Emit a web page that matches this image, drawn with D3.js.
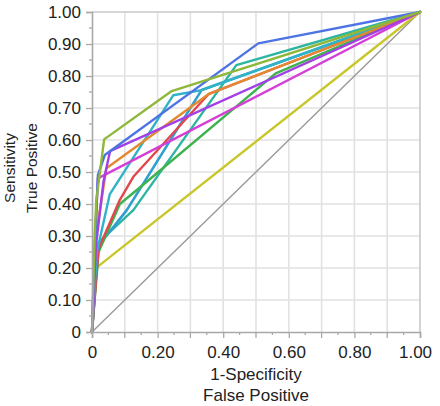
<!DOCTYPE html>
<html>
<head>
<meta charset="utf-8">
<script src="https://cdn.jsdelivr.net/npm/d3@7"></script>
<style>
  html, body { margin: 0; padding: 0; background: #fff; }
  svg { display: block; }
  text { font-family: "Liberation Sans", Arial, Helvetica, sans-serif; fill: #222; }
</style>
</head>
<body>
<svg id="chart" width="440" height="406"></svg>
<script>
// ---- data: ROC curves as [1-specificity, sensitivity] pairs ----
const reference = [[0,0],[1,1]];
const yellowCurve = [[0,0],[0.006,0.195],[1,1]];
const blueCurve = [[0,0],[0.008,0.25],[0.018,0.49],[0.039,0.553],[0.507,0.902],[1,1]];
const oliveCurve = [[0,0],[0.008,0.30],[0.013,0.41],[0.037,0.602],[0.243,0.753],[1,1]];
const violetCurve = [[0,0],[0.012,0.27],[0.035,0.47],[0.055,0.565],[1,1]];
const magentaCurve = [[0,0],[0.010,0.30],[0.018,0.48],[1,1]];
const orangeCurve = [[0,0],[0.012,0.30],[0.044,0.512],[0.355,0.743],[1,1]];
const redCurve = [[0,0],[0.020,0.26],[0.085,0.413],[0.126,0.485],[0.355,0.743],[1,1]];
const greenCurve = [[0,0],[0.020,0.25],[0.085,0.40],[0.156,0.46],[0.56,0.808],[1,1]];
const tealCurve = [[0,0],[0.015,0.25],[0.054,0.43],[0.248,0.74],[0.334,0.756],[1,1]];
const steelCurve = [[0,0],[0.018,0.267],[0.106,0.381],[0.334,0.756],[1,1]];
const turquoiseCurve = [[0,0],[0.020,0.28],[0.126,0.381],[0.44,0.834],[1,1]];

const yTickValues = [0,0.1,0.2,0.3,0.4,0.5,0.6,0.7,0.8,0.9,1.0];
const yTickLabels = ["0","0.10","0.20","0.30","0.40","0.50","0.60","0.70","0.80","0.90","1.00"];
const xTickValues = [0,0.2,0.4,0.6,0.8,1.0];
const xTickLabels = ["0","0.20","0.40","0.60","0.80","1.00"];
const xTitle = ["1-Specificity","False Positive"];
const yTitle = ["Sensitivity","True Positive"];

// ---- drawing ----
const series = [
  {d: reference, c: "#9a9a9a", w: 1.4},
  {d: yellowCurve, c: "#c9c62a", w: 2.4},
  {d: turquoiseCurve, c: "#2db5a2", w: 2.4},
  {d: steelCurve, c: "#2f9fd2", w: 2.6},
  {d: greenCurve, c: "#3db24e", w: 2.4},
  {d: redCurve, c: "#e0484e", w: 2.4},
  {d: tealCurve, c: "#30b3c6", w: 2.4},
  {d: orangeCurve, c: "#e38a30", w: 2.4},
  {d: magentaCurve, c: "#d43fd6", w: 2.4},
  {d: violetCurve, c: "#a33fe6", w: 2.4},
  {d: blueCurve, c: "#4e73e4", w: 2.4},
  {d: oliveCurve, c: "#8fb83a", w: 2.4}
];

const svg = d3.select("#chart");
const L = 92, R = 420, T = 12, B = 332;
const x = d3.scaleLinear().domain([0,1]).range([L,R]);
const y = d3.scaleLinear().domain([0,1]).range([B,T]);

const grid = d3.range(1,11).map(i => i/10);
svg.append("g").selectAll("line.gx").data(grid.slice(0,-1)).join("line")
  .attr("x1", d => x(d)).attr("x2", d => x(d)).attr("y1", T).attr("y2", B)
  .attr("stroke", "#e2e2e2").attr("stroke-width", 1.6);
svg.append("g").selectAll("line.gy").data(grid.slice(0,-1)).join("line")
  .attr("y1", d => y(d)).attr("y2", d => y(d)).attr("x1", L).attr("x2", R)
  .attr("stroke", "#e2e2e2").attr("stroke-width", 1.6);

// frame top/right
svg.append("path").attr("d", `M${L},${T}H${R}V${B}`).attr("fill","none")
  .attr("stroke","#c9c9c9").attr("stroke-width",1.6);

// curves
const line = d3.line().x(d => x(d[0])).y(d => y(d[1]));
svg.append("g").selectAll("path").data(series).join("path")
  .attr("d", s => line(s.d)).attr("fill","none")
  .attr("stroke", s => s.c).attr("stroke-width", s => s.w)
  .attr("stroke-linejoin","round").attr("stroke-linecap","round");

// axes
const minor = d3.range(0,21).map(i => i/20);
const yAxis = d3.axisLeft(y).tickValues(yTickValues).tickSize(6).tickPadding(5)
  .tickFormat((d,i) => yTickLabels[i]);
const gy = svg.append("g").attr("transform", `translate(${L},0)`).call(yAxis);
gy.select(".domain").attr("stroke","#a8a8a8").attr("stroke-width",1.6);
gy.selectAll(".tick line").attr("stroke","#a8a8a8").attr("stroke-width",1.3);
gy.selectAll(".tick text").attr("font-size","17px").attr("fill","#222")
  .attr("font-family","Liberation Sans, Arial, sans-serif");
gy.append("g").selectAll("line").data(minor.filter((d,i)=>i%2===1)).join("line")
  .attr("x1",-3).attr("x2",0).attr("y1",d=>y(d)).attr("y2",d=>y(d))
  .attr("stroke","#a8a8a8").attr("stroke-width",1.3);

const xAxis = d3.axisBottom(x).tickValues(xTickValues).tickSize(6).tickPadding(8)
  .tickFormat((d,i) => xTickLabels[i]);
const gx = svg.append("g").attr("transform", `translate(0,${B})`).call(xAxis);
gx.select(".domain").attr("stroke","#a8a8a8").attr("stroke-width",1.6);
gx.selectAll(".tick line").attr("stroke","#a8a8a8").attr("stroke-width",1.3);
gx.selectAll(".tick text").attr("font-size","17px").attr("fill","#222")
  .attr("font-family","Liberation Sans, Arial, sans-serif");
gx.selectAll(".tick text").filter((d,i) => i === xTickValues.length-1).attr("dx", -5);
gx.append("g").selectAll("line").data(minor.filter((d,i)=>i%4!==0)).join("line")
  .attr("y1",0).attr("y2",d => (Math.round(d*20)%2===0) ? 6 : 3)
  .attr("x1",d=>x(d)).attr("x2",d=>x(d))
  .attr("stroke","#a8a8a8").attr("stroke-width",1.3);

// titles
svg.append("text").attr("x",(L+R)/2).attr("y",380).attr("text-anchor","middle")
  .attr("font-size","17px").text(xTitle[0]);
svg.append("text").attr("x",(L+R)/2).attr("y",401).attr("text-anchor","middle")
  .attr("font-size","17px").text(xTitle[1]);
svg.append("text").attr("transform","translate(15,168) rotate(-90)").attr("text-anchor","middle")
  .attr("font-size","15.5px").text(yTitle[0]);
svg.append("text").attr("transform","translate(37,168) rotate(-90)").attr("text-anchor","middle")
  .attr("font-size","15.5px").text(yTitle[1]);
</script>
</body>
</html>
